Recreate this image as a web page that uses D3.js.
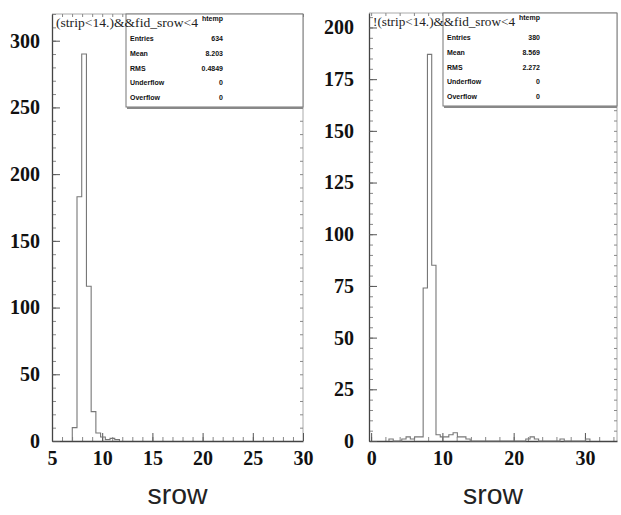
<!DOCTYPE html>
<html>
<head>
<meta charset="utf-8">
<script src="https://cdn.jsdelivr.net/npm/d3@7"></script>
<style>
  body { margin: 0; background: #fff; }
  svg { display: block; }
</style>
</head>
<body>
<svg id="chart" width="621" height="515"></svg>
<script>
// srow distribution, strips below 14 (left pad)
const leftBinLo = [7.02, 7.49, 7.96, 8.43, 8.90, 9.37, 9.84, 10.31, 10.78, 11.25];
const leftCounts = [10, 183, 290, 116, 22, 6, 3, 1, 2, 1];
const leftBinWidth = 0.47;
const leftXTicks = [5, 10, 15, 20, 25, 30];
const leftYTicks = [0, 50, 100, 150, 200, 250, 300];

// srow distribution, remaining strips (right pad)
const rightBinLo = [2.5, 4.3, 4.9, 5.5, 6.1, 6.7, 7.3, 7.9, 8.5, 9.1, 9.7, 10.3, 10.9, 11.5, 12.1, 12.7, 13.3, 21.7, 22.3, 22.9, 26.5, 30.1];
const rightCounts = [1, 1, 2, 1, 2, 2, 74, 187, 85, 3, 2, 2, 3, 4, 2, 2, 1, 1, 2, 1, 1, 1];
const rightBinWidth = 0.6;
const rightXTicks = [0, 10, 20, 30];
const rightYTicks = [0, 25, 50, 75, 100, 125, 150, 175, 200];

const padTitles = ["(strip<14.)&&fid_srow<4", "!(strip<14.)&&fid_srow<4"];
const statLabels = ["Entries", "Mean", "RMS", "Underflow", "Overflow"];
const axisTitle = "srow";

const svg = d3.select("#chart");

const pads = [
  {
    lo: leftBinLo, counts: leftCounts, w: leftBinWidth,
    xTicks: leftXTicks, yTicks: leftYTicks, title: padTitles[0],
    xDomain: [5, 30], yDomain: [0, 320],
    frame: { x0: 52, x1: 303, y0: 14, y1: 441 },
    xMinor: 1, yMinor: 10, yPad: 12,
    stats: { x0: 126, x1: 303, y1: 107, valX: 223 }
  },
  {
    lo: rightBinLo, counts: rightCounts, w: rightBinWidth,
    xTicks: rightXTicks, yTicks: rightYTicks, title: padTitles[1],
    xDomain: [-0.3, 34.5], yDomain: [0, 207],
    frame: { x0: 369, x1: 617, y0: 13, y1: 441 },
    xMinor: 2, yMinor: 5, yPad: 15,
    stats: { x0: 443, x1: 617, y1: 106, valX: 540 }
  }
];

pads.forEach(p => {
  const f = p.frame;
  const x = d3.scaleLinear().domain(p.xDomain).range([f.x0, f.x1]);
  const y = d3.scaleLinear().domain(p.yDomain).range([f.y1, f.y0]);
  const g = svg.append("g");

  // frame: opposite sides drawn lighter
  g.append("line").attr("x1", f.x0).attr("x2", f.x1).attr("y1", f.y0).attr("y2", f.y0)
    .attr("stroke", "#aaa").attr("stroke-width", 1);
  g.append("line").attr("x1", f.x1).attr("x2", f.x1).attr("y1", f.y0).attr("y2", f.y1)
    .attr("stroke", "#aaa").attr("stroke-width", 1);

  // minor ticks
  const xMinorVals = d3.range(Math.ceil(p.xDomain[0]), p.xDomain[1] + 1e-9, p.xMinor)
    .filter(v => v >= p.xDomain[0] && v <= p.xDomain[1]);
  const yMinorVals = d3.range(0, p.yDomain[1] + 1e-9, p.yMinor);

  const minorStyle = sel => {
    sel.select(".domain").remove();
    sel.selectAll(".tick text").remove();
    sel.selectAll(".tick line").attr("stroke", "#888");
  };
  g.append("g").attr("transform", `translate(0,${f.y1})`)
    .call(d3.axisBottom(x).tickValues(xMinorVals).tickSize(-4).tickFormat(""))
    .call(minorStyle);
  g.append("g").attr("transform", `translate(0,${f.y0})`)
    .call(d3.axisTop(x).tickValues(xMinorVals).tickSize(-3).tickFormat(""))
    .call(minorStyle);
  g.append("g").attr("transform", `translate(${f.x0},0)`)
    .call(d3.axisLeft(y).tickValues(yMinorVals).tickSize(-4).tickFormat(""))
    .call(minorStyle);
  g.append("g").attr("transform", `translate(${f.x1},0)`)
    .call(d3.axisRight(y).tickValues(yMinorVals).tickSize(-3).tickFormat(""))
    .call(minorStyle);

  // major ticks with labels
  const labelStyle = sel => {
    sel.select(".domain").attr("stroke", "#444").attr("stroke-width", 1.3);
    sel.selectAll(".tick line").attr("stroke", "#555");
    sel.selectAll(".tick text")
      .attr("fill", "#111")
      .style("font-family", "'Liberation Serif', 'DejaVu Serif', serif")
      .style("font-size", "20px")
      .style("font-weight", "bold");
  };
  g.append("g").attr("transform", `translate(0,${f.y1})`)
    .call(d3.axisBottom(x).tickValues(p.xTicks).tickSize(-8).tickSizeOuter(0).tickPadding(10))
    .call(labelStyle);
  g.append("g").attr("transform", `translate(${f.x0},0)`)
    .call(d3.axisLeft(y).tickValues(p.yTicks).tickSize(-8).tickSizeOuter(0).tickPadding(p.yPad))
    .call(labelStyle);

  // histogram outline as a step path, dropping to zero across empty bins
  const pts = [[p.lo[0], 0]];
  p.lo.forEach((lo, i) => {
    const hi = lo + p.w;
    pts.push([lo, p.counts[i]], [hi, p.counts[i]]);
    const next = p.lo[i + 1];
    if (next === undefined || next > hi + 1e-6) {
      pts.push([hi, 0]);
      if (next !== undefined) pts.push([next, 0]);
    }
  });
  g.append("path")
    .attr("d", d3.line().x(d => x(d[0])).y(d => y(d[1]))(pts))
    .attr("fill", "none").attr("stroke", "#777").attr("stroke-width", 1.1);

  // statistics box
  const n = d3.sum(p.counts);
  const centers = p.lo.map(lo => lo + p.w / 2);
  const mean = d3.sum(centers, (c, i) => c * p.counts[i]) / n;
  const rms = Math.sqrt(d3.sum(centers, (c, i) => p.counts[i] * (c - mean) ** 2) / n);
  const statValues = [String(n), d3.format(".4g")(mean), d3.format(".4g")(rms), "0", "0"];

  const s = p.stats;
  g.append("rect").attr("x", s.x0).attr("y", f.y0).attr("width", s.x1 - s.x0).attr("height", s.y1 - f.y0)
    .attr("fill", "#fff").attr("stroke", "#777").attr("stroke-width", 1);
  g.append("line").attr("x1", s.x0 + 1).attr("x2", s.x1).attr("y1", s.y1 + 1).attr("y2", s.y1 + 1)
    .attr("stroke", "#888").attr("stroke-width", 2);
  g.append("text").attr("x", s.valX).attr("y", f.y0 + 7)
    .attr("text-anchor", "end")
    .style("font-family", "'Liberation Sans', Arial, sans-serif")
    .style("font-size", "7px").style("font-weight", "bold").attr("fill", "#111")
    .text("htemp");
  statLabels.forEach((lab, i) => {
    const yy = f.y0 + 27 + i * 14.8;
    g.append("text").attr("x", s.x0 + 4).attr("y", yy)
      .style("font-family", "'Liberation Sans', Arial, sans-serif")
      .style("font-size", "7px").style("font-weight", "bold").attr("fill", "#111")
      .text(lab);
    g.append("text").attr("x", s.valX).attr("y", yy).attr("text-anchor", "end")
      .style("font-family", "'Liberation Sans', Arial, sans-serif")
      .style("font-size", "7px").style("font-weight", "bold").attr("fill", "#111")
      .text(statValues[i]);
  });

  // pad title, laid over the top of the frame
  g.append("text").attr("x", f.x0 + 4).attr("y", f.y0 + 13)
    .style("font-family", "'Liberation Serif', serif")
    .style("font-size", "12px").attr("fill", "#222")
    .attr("textLength", 142).attr("lengthAdjust", "spacingAndGlyphs")
    .text(p.title);

  // x axis title
  g.append("text").attr("x", (f.x0 + f.x1) / 2).attr("y", 504)
    .attr("text-anchor", "middle")
    .style("font-family", "'Liberation Sans', Arial, sans-serif")
    .style("font-size", "28px").attr("fill", "#222")
    .attr("textLength", 60).attr("lengthAdjust", "spacingAndGlyphs")
    .text(axisTitle);
});
</script>
</body>
</html>
